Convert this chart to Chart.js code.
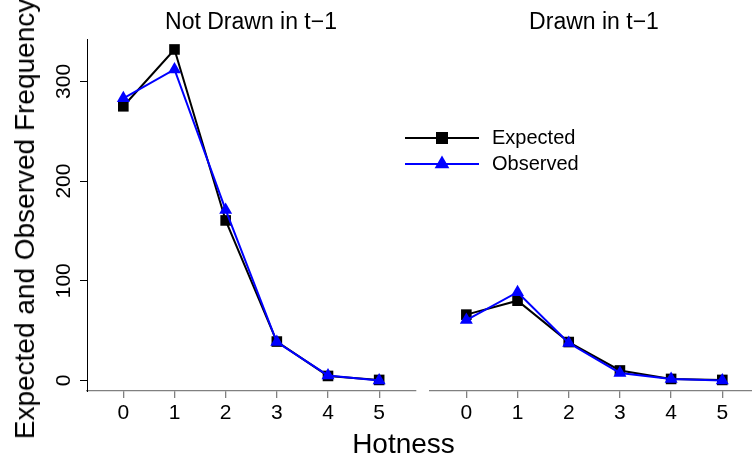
<!DOCTYPE html>
<html>
<head>
<meta charset="utf-8">
<script src="https://cdn.jsdelivr.net/npm/chart.js@4.4.1/dist/chart.umd.min.js"></script>
<style>
    body { margin: 0; background: #fff; }
    #wrap { position: relative; width: 752px; height: 463px; overflow: hidden; font-family: "Liberation Sans", Arial, sans-serif; }
    canvas { position: absolute; top: 0; }
    .lbl { position: absolute; white-space: nowrap; line-height: 1; color: #000; }
</style>
</head>
<body>
<div id="wrap">
    <canvas id="left-chart" width="420" height="463" style="left:0"></canvas>
    <canvas id="right-chart" width="422" height="463" style="left:330px"></canvas>
    <div class="lbl" style="font-size:23px; left:251px; top:9.5px; transform:translateX(-50%)">Not Drawn in t−1</div>
    <div class="lbl" style="font-size:23px; left:594px; top:9.5px; transform:translateX(-50%)">Drawn in t−1</div>
    <div class="lbl" style="font-size:28px; left:403.5px; top:430.3px; transform:translateX(-50%)">Hotness</div>
    <div class="lbl" style="font-size:28px; left:24.6px; top:219px; transform:translate(-50%,-50%) rotate(-90deg)">Expected and Observed Frequency</div>
</div>
<script>
const FONT = '"Liberation Sans", Arial, sans-serif';

const hotness = [0, 1, 2, 3, 4, 5];
const xTickLabels = ['0', '1', '2', '3', '4', '5'];
const yTickValues = [0, 100, 200, 300];
const seriesNames = ['Expected', 'Observed'];

// Not drawn in t-1
const expectedNotDrawn = [275, 332, 160.5, 39, 4.5, 0.5];
const observedNotDrawn = [283, 312, 171, 38.5, 5, 0];

// Drawn in t-1
const expectedDrawn = [66, 80, 38.5, 10, 1.5, 0.5];
const observedDrawn = [60.5, 88.5, 37.5, 7.5, 1.5, 0];

// y tick labels are drawn rotated, like R's default axis
const yLabelPlugin = {
    id: 'yTickLabels',
    afterDraw(chart) {
        const ctx = chart.ctx;
        const scale = chart.scales.y;
        ctx.save();
        ctx.fillStyle = '#000';
        ctx.font = `21px ${FONT}`;
        ctx.textAlign = 'center';
        ctx.textBaseline = 'alphabetic';
        yTickValues.forEach(v => {
            const py = scale.getPixelForValue(v);
            ctx.save();
            ctx.translate(70, py);
            ctx.rotate(-Math.PI / 2);
            ctx.fillText(String(v), 0, 0);
            ctx.restore();
        });
        ctx.restore();
    }
};

const legendPlugin = {
    id: 'seriesLegend',
    afterDraw(chart) {
        const ctx = chart.ctx;
        const rowY = [138, 164];
        ctx.save();
        chart.data.datasets.forEach((ds, i) => {
            const y = rowY[i];
            ctx.strokeStyle = ds.borderColor;
            ctx.lineWidth = 2;
            ctx.beginPath();
            ctx.moveTo(75, y);
            ctx.lineTo(149, y);
            ctx.stroke();
            ctx.fillStyle = ds.pointBackgroundColor;
            Chart.helpers.drawPoint(ctx, { pointStyle: ds.pointStyle, radius: 8.5, rotation: 0, borderWidth: 0 }, 112, y);
            ctx.fillStyle = '#000';
            ctx.font = `20px ${FONT}`;
            ctx.textAlign = 'left';
            ctx.textBaseline = 'middle';
            ctx.fillText(ds.label, 162, y);
        });
        ctx.restore();
    }
};

function toPoints(values) {
    return hotness.map((h, i) => ({ x: h, y: values[i] }));
}

function panelConfig(expected, observed, xMax, padding, showY, plugins) {
    return {
        type: 'line',
        data: {
            datasets: [
                {
                    label: seriesNames[0],
                    data: toPoints(expected),
                    borderColor: '#000000',
                    backgroundColor: '#000000',
                    pointBackgroundColor: '#000000',
                    pointStyle: 'rect',
                    pointRadius: 7.5,
                    pointBorderWidth: 0,
                    borderWidth: 2,
                    tension: 0,
                    order: 2,
                },
                {
                    label: seriesNames[1],
                    data: toPoints(observed),
                    borderColor: '#0000ff',
                    backgroundColor: '#0000ff',
                    pointBackgroundColor: '#0000ff',
                    pointStyle: 'triangle',
                    pointRadius: 7.5,
                    pointBorderWidth: 0,
                    borderWidth: 2,
                    tension: 0,
                    order: 1,
                },
            ]
        },
        options: {
            responsive: false,
            animation: false,
            devicePixelRatio: 1,
            layout: { padding, autoPadding: false },
            plugins: {
                legend: { display: false },
                tooltip: { enabled: false },
            },
            scales: {
                x: {
                    type: 'linear',
                    min: -0.71,
                    max: xMax,
                    afterBuildTicks: s => { s.ticks = hotness.map(v => ({ value: v })); },
                    afterFit: s => { s.height = 72; s.paddingLeft = 0; s.paddingRight = 0; },
                    ticks: {
                        callback: (v, i) => xTickLabels[i],
                        font: { size: 21, family: FONT },
                        color: '#000',
                        padding: 3,
                        maxRotation: 0,
                        autoSkip: false,
                    },
                    grid: { drawOnChartArea: false, tickLength: 7, color: '#808080', lineWidth: 1.3 },
                    border: { color: '#808080', width: 1.3 },
                },
                y: {
                    display: showY,
                    min: -10.6,
                    max: 342.5,
                    afterBuildTicks: s => { s.ticks = yTickValues.map(v => ({ value: v })); },
                    afterFit: s => { s.width = showY ? 87 : 0; },
                    ticks: { display: false },
                    grid: { drawOnChartArea: false, tickLength: 7, color: '#000' },
                    border: { color: '#000', width: 1 },
                },
            }
        },
        plugins,
    };
}

new Chart(document.getElementById('left-chart'),
    panelConfig(expectedNotDrawn, observedNotDrawn, 5.72, { top: 39, left: 0, right: 4, bottom: 0 }, true, [yLabelPlugin]));

new Chart(document.getElementById('right-chart'),
    panelConfig(expectedDrawn, observedDrawn, 5.58, { top: 39, left: 100, right: 0, bottom: 0 }, false, [legendPlugin]));
</script>
</body>
</html>
